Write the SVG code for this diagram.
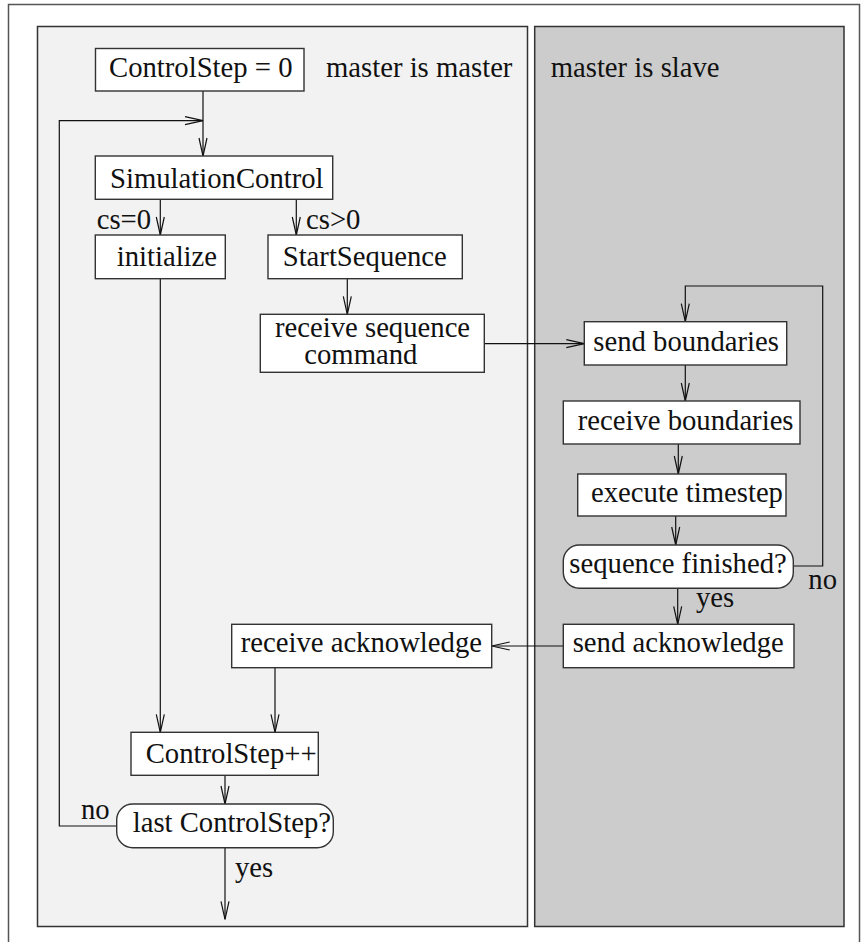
<svg xmlns="http://www.w3.org/2000/svg" width="861" height="942" viewBox="0 0 861 942">
  <style>
    .frame { fill: #ffffff; stroke: #555555; stroke-width: 1.5; }
    .lane { stroke: #333333; stroke-width: 1.5; }
    .box { fill: #ffffff; stroke: #333333; stroke-width: 1.4; }
    .edge { fill: none; stroke: #111111; stroke-width: 1.2; }
    text { font-family: "Liberation Serif", "Times New Roman", serif; font-size: 28.7px; fill: #111111; }
  </style>
  <defs>
    <marker id="ah" viewBox="-20 -6 22 12" refX="0" refY="0" markerWidth="22" markerHeight="12" markerUnits="userSpaceOnUse" orient="auto">
      <path d="M-18,-4 L0,0 L-18,4" fill="none" stroke="#111111" stroke-width="1.2"/>
    </marker>
  </defs>

  <!-- outer frame -->
  <rect class="frame" x="8.5" y="4.5" width="851" height="950"/>

  <!-- swimlanes -->
  <g id="lane-master">
    <rect class="lane" x="37.5" y="26.5" width="490" height="900" fill="#f2f2f2"/>
    <text x="326" y="77.3">master is master</text>
  </g>
  <g id="lane-slave">
    <rect class="lane" x="534.7" y="26.5" width="309.3" height="900" fill="#cccccc"/>
    <text x="550.7" y="77.3">master is slave</text>
  </g>

  <!-- connectors -->
  <g id="connectors">
    <path class="edge" d="M203,91 V156" marker-end="url(#ah)"/>
    <path class="edge" d="M116.7,826 H59.3 V120.7 H203" marker-end="url(#ah)"/>
    <path class="edge" d="M160.3,199.3 V235" marker-end="url(#ah)"/>
    <path class="edge" d="M296.3,199.3 V235" marker-end="url(#ah)"/>
    <path class="edge" d="M347.3,278.7 V314.3" marker-end="url(#ah)"/>
    <path class="edge" d="M484.3,343.7 H584.3" marker-end="url(#ah)"/>
    <path class="edge" d="M685.3,365 V401" marker-end="url(#ah)"/>
    <path class="edge" d="M678.3,444 V474" marker-end="url(#ah)"/>
    <path class="edge" d="M675.7,516 V545" marker-end="url(#ah)"/>
    <path class="edge" d="M793.3,566 H822.7 V286 H685.3 V321.7" marker-end="url(#ah)"/>
    <path class="edge" d="M677.7,588.3 V624.3" marker-end="url(#ah)"/>
    <path class="edge" d="M563.3,646 H491.7" marker-end="url(#ah)"/>
    <path class="edge" d="M275,667.7 V732.3" marker-end="url(#ah)"/>
    <path class="edge" d="M160.3,278.7 V732.3" marker-end="url(#ah)"/>
    <path class="edge" d="M225,775.3 V804" marker-end="url(#ah)"/>
    <path class="edge" d="M225,847.7 V919.3" marker-end="url(#ah)"/>
    <text x="96.7" y="229.3">cs=0</text>
    <text x="306" y="229.3">cs&gt;0</text>
    <text x="808.3" y="589.3">no</text>
    <text x="696" y="606.7">yes</text>
    <text x="81" y="819">no</text>
    <text x="235" y="876.7">yes</text>
  </g>

  <!-- nodes -->
  <g id="n-controlstep0">
    <rect class="box" x="95.5" y="48.5" width="208.5" height="42.5"/>
    <text x="109" y="77.3">ControlStep = 0</text>
  </g>
  <g id="n-simulationcontrol">
    <rect class="box" x="95.3" y="156" width="237.4" height="43.3"/>
    <text x="110" y="187.7">SimulationControl</text>
  </g>
  <g id="n-initialize">
    <rect class="box" x="95.3" y="235" width="130" height="43.7"/>
    <text x="116.7" y="265.7">initialize</text>
  </g>
  <g id="n-startsequence">
    <rect class="box" x="268" y="235" width="194.3" height="43.7"/>
    <text x="282.7" y="265.7">StartSequence</text>
  </g>
  <g id="n-receive-seq-cmd">
    <rect class="box" x="260.3" y="314.3" width="224" height="58"/>
    <text x="275" y="336.7">receive sequence<tspan x="304.3" y="364">command</tspan></text>
  </g>
  <g id="n-send-boundaries">
    <rect class="box" x="584.3" y="321.7" width="202.4" height="43.3"/>
    <text x="593.3" y="351">send boundaries</text>
  </g>
  <g id="n-receive-boundaries">
    <rect class="box" x="563.3" y="401" width="236.7" height="43"/>
    <text x="577.7" y="430">receive boundaries</text>
  </g>
  <g id="n-execute-timestep">
    <rect class="box" x="577.7" y="474" width="208.3" height="42"/>
    <text x="591" y="501.7">execute timestep</text>
  </g>
  <g id="n-sequence-finished">
    <rect class="box" x="563.3" y="545" width="230" height="43.3" rx="16" ry="16"/>
    <text x="569.3" y="573.3">sequence finished?</text>
  </g>
  <g id="n-send-acknowledge">
    <rect class="box" x="563.3" y="624.3" width="230.7" height="43.4"/>
    <text x="572.7" y="652.3">send acknowledge</text>
  </g>
  <g id="n-receive-acknowledge">
    <rect class="box" x="231.7" y="624.3" width="260" height="43.4"/>
    <text x="240.7" y="652.3">receive acknowledge</text>
  </g>
  <g id="n-controlstep-inc">
    <rect class="box" x="131" y="732.3" width="187.3" height="43"/>
    <text x="145.7" y="763.3">ControlStep++</text>
  </g>
  <g id="n-last-controlstep">
    <rect class="box" x="116.7" y="804" width="216.6" height="43.7" rx="16" ry="16"/>
    <text x="132.7" y="832.3">last ControlStep?</text>
  </g>
</svg>
